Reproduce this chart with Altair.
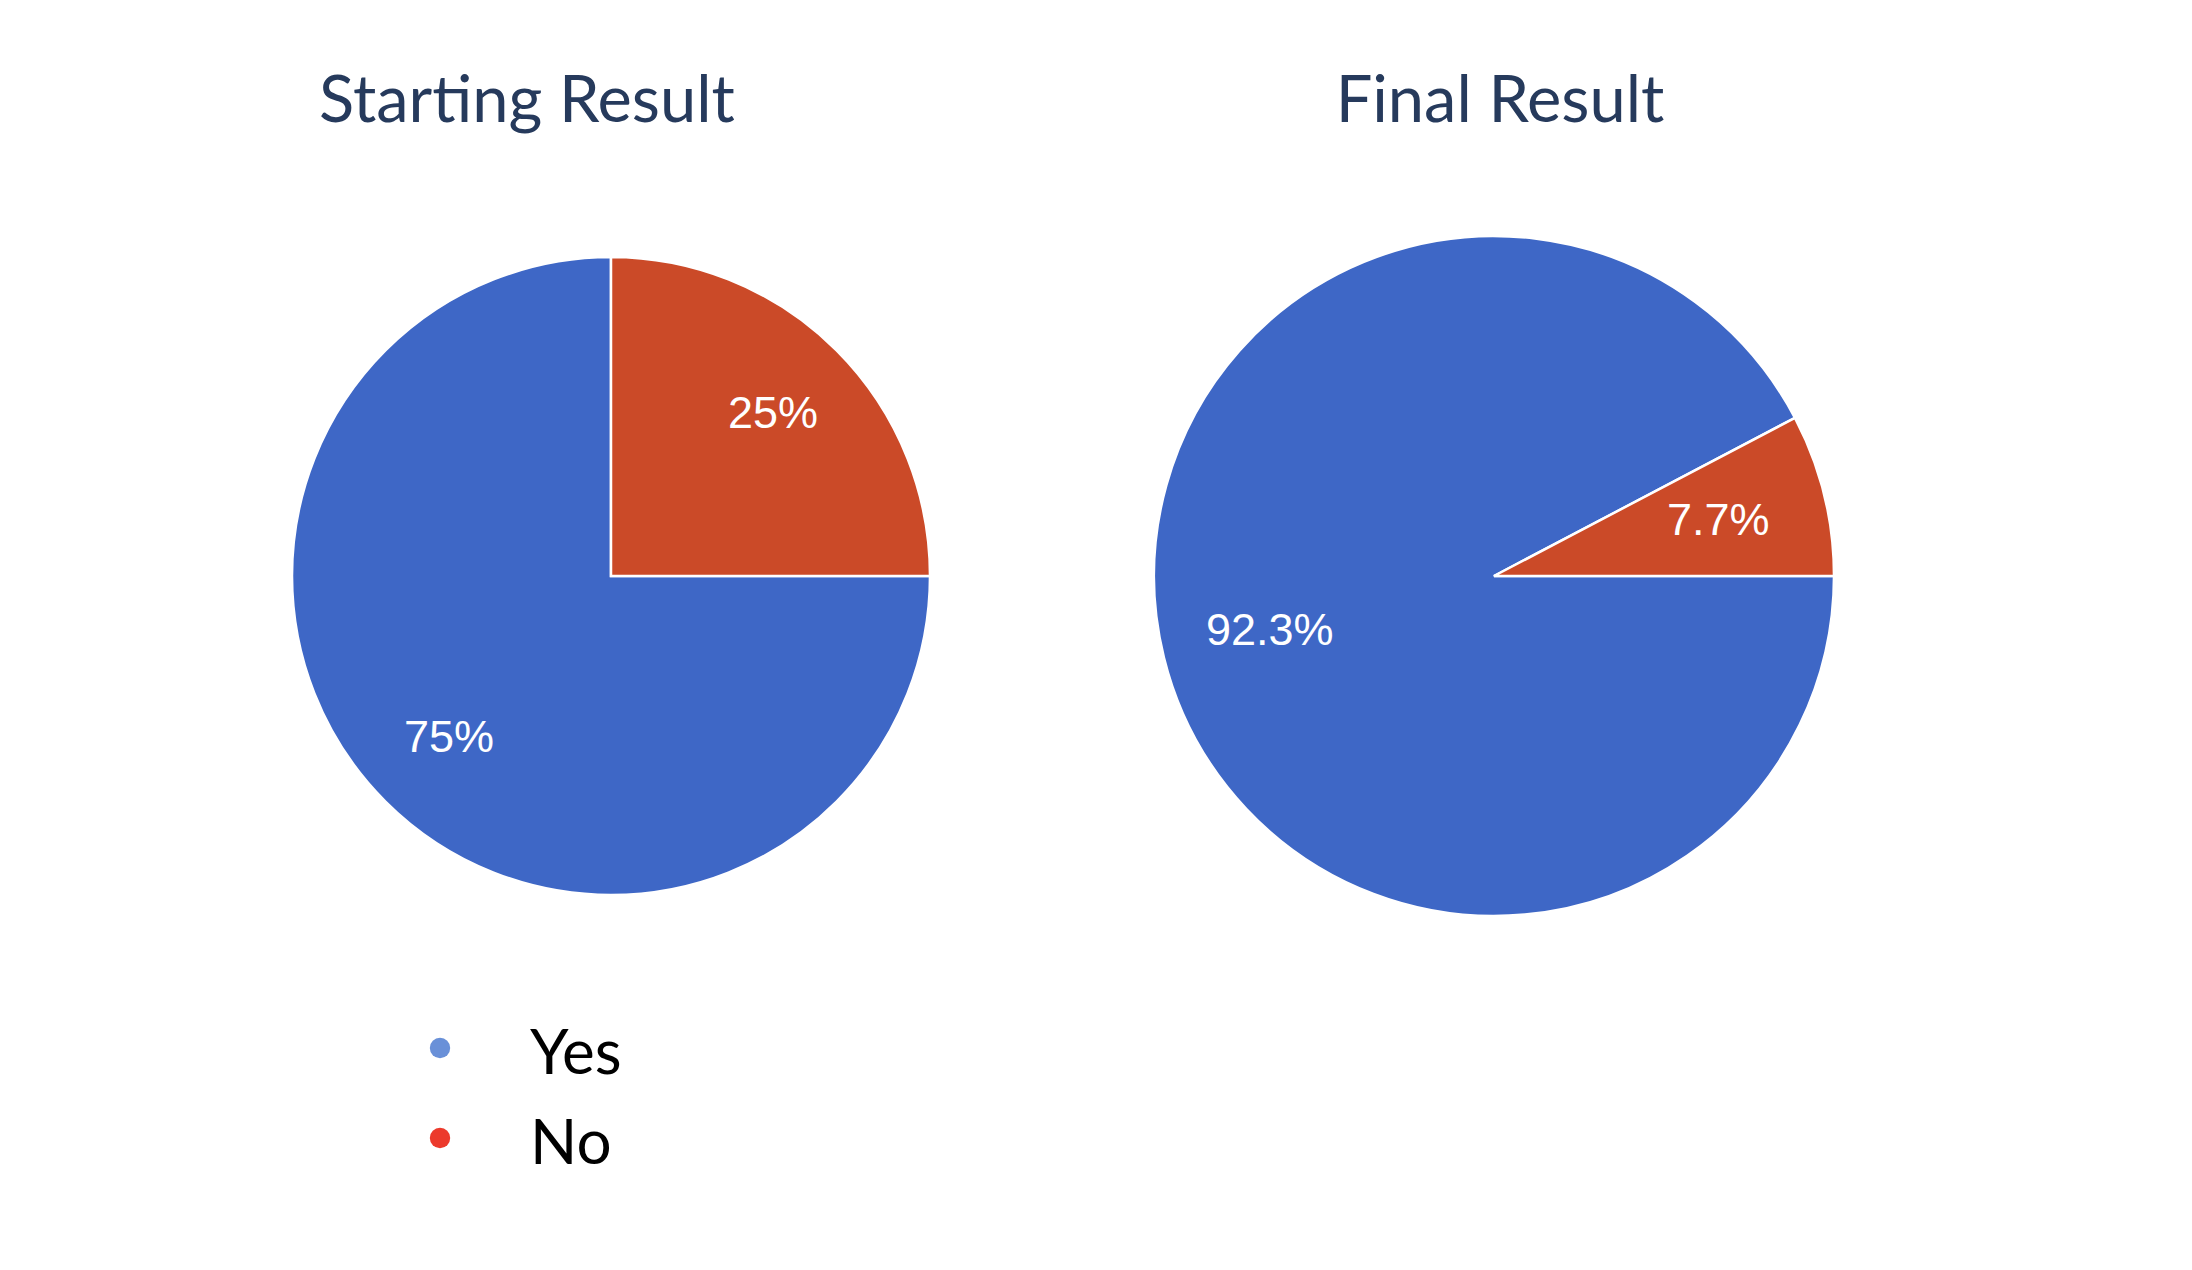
import math
import altair as alt
import pandas as pd

categories = ["Yes", "No"]
start_values = [75, 25]
final_values = [92.3, 7.7]
pie_colors = ["#3e67c6", "#cb4a28"]
legend_colors = ["#6990d8", "#ec3a2c"]
titles = ["Starting Result", "Final Result"]


def pie_df(values):
    return pd.DataFrame({
        "answer": categories,
        "value": values,
        "order": list(range(len(categories))),
        "fill": pie_colors,
        "label": [f"{v:g}%" for v in values],
    })


def pie(values, title, radius, label_radius, dx):
    base = alt.Chart(pie_df(values)).encode(
        theta=alt.Theta("value:Q", stack=True,
                        scale=alt.Scale(range=[math.pi / 2, math.pi / 2 + 2 * math.pi])),
        order=alt.Order("order:Q"),
    )
    arcs = base.mark_arc(outerRadius=radius, stroke="white", strokeWidth=2.5).encode(
        color=alt.Color("fill:N", scale=None)
    )
    labels = base.mark_text(radius=label_radius, font="Liberation Sans", fontSize=45,
                            color="white").encode(text="label:N")
    return (arcs + labels).properties(
        width=700, height=700,
        title=alt.TitleParams(text=title, font="Lato", fontSize=65, fontWeight="normal",
                              color="#263a5c", anchor="middle", offset=90, dx=dx),
    )


left = pie(start_values, titles[0], 319, 229, -84)
right = pie(final_values, titles[1], 340, 231, 6)

legend_df = pd.DataFrame({"cat": categories, "fill": legend_colors})
lbase = alt.Chart(legend_df).encode(
    y=alt.Y("cat:N", sort=categories, axis=None)
)
dots = lbase.mark_circle(size=415, opacity=1).encode(
    x=alt.value(179), color=alt.Color("fill:N", scale=None)
)
ltext = lbase.mark_text(align="left", baseline="middle", font="Lato", fontSize=62,
                        dy=7, color="black").encode(x=alt.value(269), text="cat:N")
legend = (dots + ltext).properties(width=400, height=180)

chart = alt.vconcat(
    alt.hconcat(left, right, spacing=183),
    legend,
    spacing=77,
).properties(
    padding={"left": 253, "top": 62, "right": 0, "bottom": 0},
    background="white",
).configure_view(strokeWidth=0)

chart.save("out.html", embed_options={"renderer": "svg", "actions": False})
